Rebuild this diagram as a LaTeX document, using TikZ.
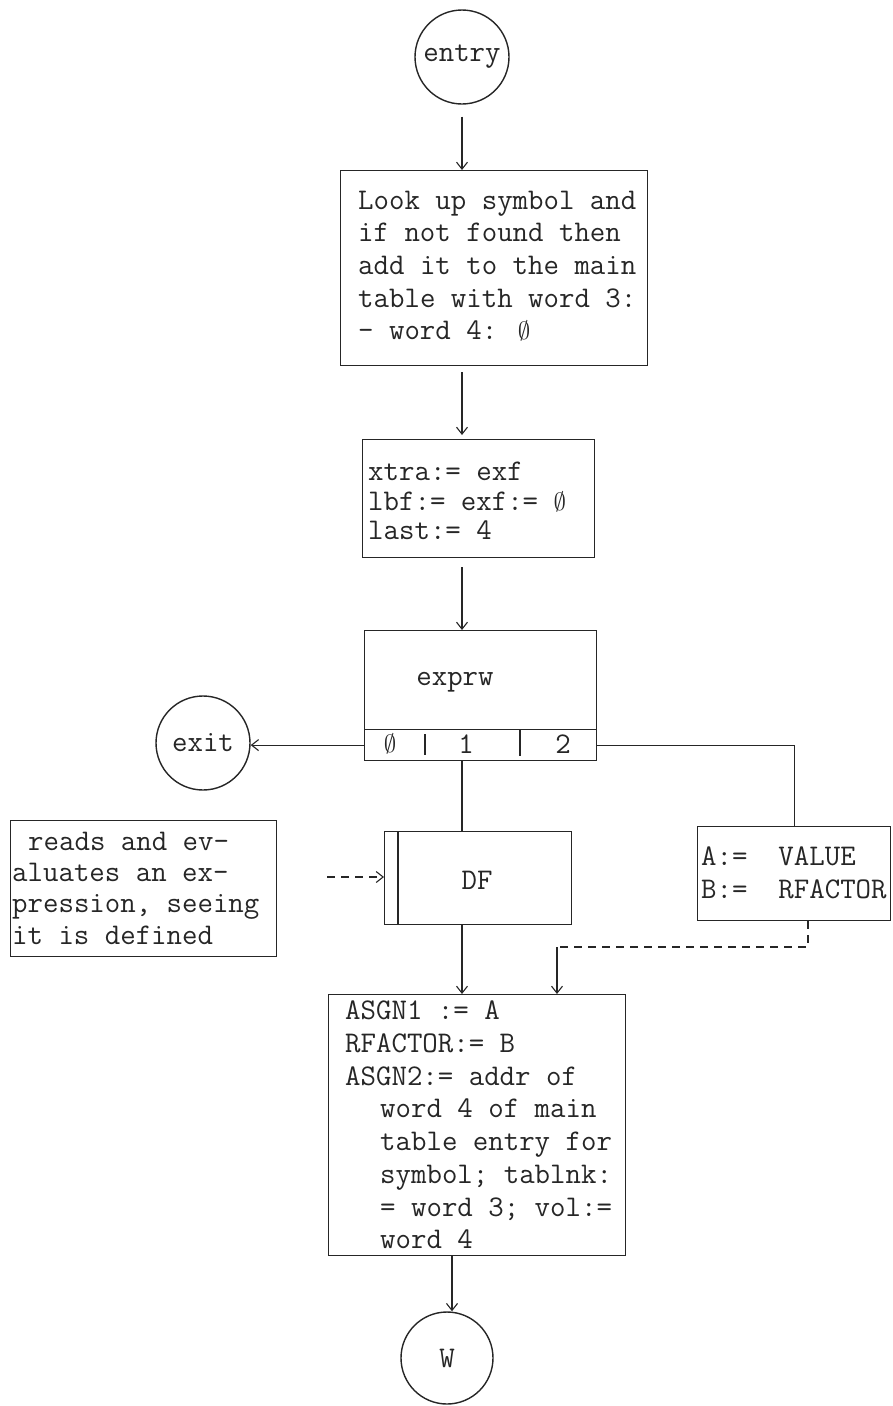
\documentclass[tikz,border=0pt]{standalone}
\usepackage{fontspec}
\usetikzlibrary{arrows.meta}
\begin{document}
\begin{tikzpicture}[x=1pt,y=-1pt,
  every node/.style={font=\ttfamily\fontsize{30}{32.7}\selectfont, text=black!85},
  box/.style={draw=black!85, line width=1.2pt, rectangle, inner sep=0pt, anchor=north west},
  circ/.style={draw=black!85, circle, line width=1.4pt, inner sep=0pt},
  txt/.style={inner sep=0pt, align=left, anchor=west},
  ln/.style={draw=black!85, line width=1.1pt},
  arr/.style={ln, -{Straight Barb[length=7pt,width=11pt]}},
  dsh/.style={dash pattern=on 8pt off 6pt}]
\useasboundingbox (0,0) rectangle (892,1406);

% entry
\node[circ, minimum size=94pt] (entry) at (462,57) {entry};

% box 1
\node[box, minimum width=307pt, minimum height=195pt] (b1) at (340,170) {};
\node[txt] (b1t) at (358,266) {Look up symbol and\\if not found then\\add it to the main\\table with word 3:\\- word 4: $\emptyset$};

% box 2
\node[box, minimum width=232pt, minimum height=118pt] (b2) at (362,439) {};
\node[txt, font=\ttfamily\fontsize{30}{29.5}\selectfont] (b2t) at (368,501) {xtra:= exf\\lbf:= exf:= $\emptyset$\\last:= 4};

% exprw
\node[box, minimum width=232pt, minimum height=99pt] (ex) at (364,630) {};
\node (exl) at (455,682) {exprw};
\node[box, minimum width=232pt, minimum height=31pt] (row) at (364,729) {};
\node (r0) at (390,744) {$\emptyset$};
\node (r1) at (466,744) {1};
\node (r2) at (563,744) {2};
\draw[ln] (425,734) -- (425,755);
\draw[ln] (520,729) -- (520,756);

% exit
\node[circ, minimum size=94pt] (exit) at (203,743) {exit};

% note
\node[box, minimum width=266pt, minimum height=136pt] (note) at (10,820) {};
\node[txt, font=\ttfamily\fontsize{30}{31.3}\selectfont] (notet) at (12,888) {\hspace*{16pt}reads and ev-\\aluates an ex-\\pression, seeing\\it is defined};

% DF
\node[box, minimum width=187pt, minimum height=93pt] (df) at (384,831) {};
\draw[ln] ([xshift=14pt]df.north west) -- ([xshift=14pt]df.south west);
\node (dfl) at (477,880) {DF};

% right box
\node[box, minimum width=193pt, minimum height=94pt] (rb) at (697,826) {};
\node[txt] (rbt) at (701,873) {A:=\ \ VALUE\\B:=\ \ RFACTOR};

% ASGN box
\node[box, minimum width=297pt, minimum height=261pt] (asgn) at (328,994) {};
\node[txt] (asgnt) at (345,1125) {ASGN1 := A\\RFACTOR:= B\\ASGN2:= addr of\\\hspace*{35pt}word 4 of main\\\hspace*{35pt}table entry for\\\hspace*{35pt}symbol; tablnk:\\\hspace*{35pt}= word 3; vol:=\\\hspace*{35pt}word 4};

% W
\node[circ, minimum size=92pt] (W) at (447,1358) {W};

% coordinates
\coordinate (kx) at (462,0);
\coordinate (k1) at (808,947);
\coordinate (k2) at (557,947);
\coordinate (nq) at (327,877);
\coordinate (kw) at (452,0);

% connectors
\draw[arr, shorten <=12pt] (entry.south) -- (entry.south |- b1.north);
\draw[arr, shorten <=6pt, shorten >=4pt] (b1.south -| kx) -- (kx |- b2.north);
\draw[arr, shorten <=9pt] (b2.south -| kx) -- (kx |- ex.north);
\draw[arr] (row.west) -- (row.west -| exit.east);
\draw[ln] (row.south -| kx) -- (kx |- df.north);
\draw[ln] (row.east) -| (rb.north);
\draw[arr] (df.south -| kx) -- (kx |- asgn.north);
\draw[ln, dsh] (rb.south -| k1) -- (k1) -- (k2);
\draw[arr] (k2) -- (k2 |- asgn.north);
\draw[arr, dsh] (nq) -- (nq -| df.west);
\draw[arr] (asgn.south -| kw) -- (kw |- W.north);
\end{tikzpicture}
\end{document}
